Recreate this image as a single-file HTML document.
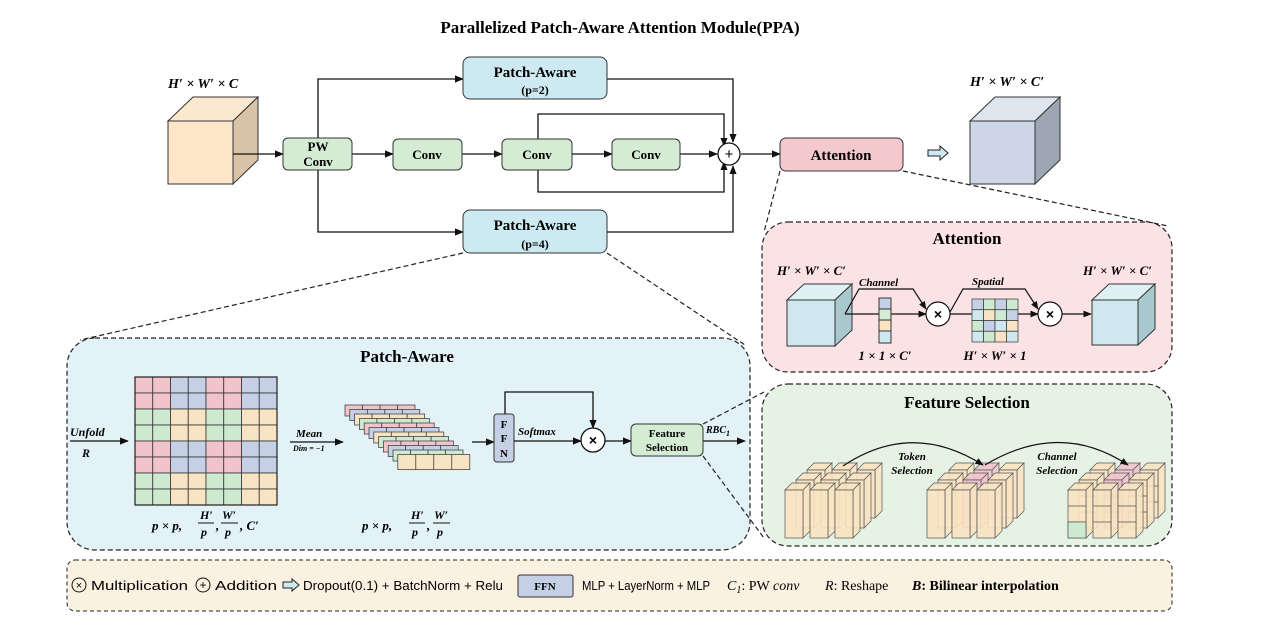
<!DOCTYPE html>
<html><head><meta charset="utf-8"><style>
html,body{margin:0;padding:0;background:#fff}
svg{display:block}
.t{font-family:"Liberation Serif",serif;font-weight:bold}
.i{font-family:"Liberation Serif",serif;font-style:italic;font-weight:bold}
.s{font-family:"Liberation Sans",sans-serif}
</style></head><body>
<svg id="sv" width="1278" height="622" viewBox="0 0 1278 622" xmlns="http://www.w3.org/2000/svg">
<defs>
<marker id="a" viewBox="0 0 10 10" refX="9" refY="5" markerWidth="7" markerHeight="7" orient="auto"><path d="M0,1 L10,5 L0,9 z" fill="#111"/></marker>
</defs>
<text x="620" y="33" text-anchor="middle" class="t" font-size="17">Parallelized Patch-Aware Attention Module(PPA)</text>

<!-- panels -->
<rect x="67" y="338" width="683" height="212" rx="28" fill="#e2f2f6" stroke="#222" stroke-dasharray="5,3" stroke-width="1.2"/>
<rect x="762" y="222" width="410" height="150" rx="26" fill="#fbe3e5" stroke="#222" stroke-dasharray="5,3" stroke-width="1.2"/>
<rect x="762" y="384" width="410" height="162" rx="26" fill="#e6f2e4" stroke="#222" stroke-dasharray="5,3" stroke-width="1.2"/>
<rect x="67" y="560" width="1105" height="51" rx="8" fill="#fbf1e0" stroke="#222" stroke-dasharray="4,3" stroke-width="1"/>

<!-- zoom dashed lines -->
<g stroke="#222" stroke-dasharray="5,3" stroke-width="1.2" fill="none">
<line x1="463" y1="253" x2="80" y2="340"/><line x1="607" y1="253" x2="745" y2="345"/>
<line x1="780" y1="171" x2="764" y2="232"/><line x1="903" y1="171" x2="1168" y2="226"/>
<line x1="703" y1="424" x2="764" y2="392"/><line x1="703" y1="456" x2="764" y2="538"/>
</g>

<!-- input cube -->
<polygon points="168,121 193,97 258,97 233,121" fill="#fbe9cf" stroke="#333"/>
<polygon points="233,121 258,97 258,160 233,184" fill="#d9c3a6" stroke="#333"/>
<rect x="168" y="121" width="65" height="63" fill="#fde7c8" stroke="#333"/>
<text x="168" y="88" class="i" font-size="14">H′ × W′ × C</text>

<!-- output cube -->
<polygon points="970,121 995,97 1060,97 1035,121" fill="#dfe5ef" stroke="#333"/>
<polygon points="1035,121 1060,97 1060,160 1035,184" fill="#9da6b4" stroke="#333"/>
<rect x="970" y="121" width="65" height="63" fill="#cdd6e6" stroke="#333"/>
<text x="970" y="86" class="i" font-size="14">H′ × W′ × C′</text>

<!-- main flow lines -->
<g stroke="#111" stroke-width="1.3" fill="none" marker-end="url(#a)">
<line x1="233" y1="154" x2="283" y2="154"/>
<polyline points="318,138 318,79 463,79"/>
<polyline points="318,170 318,232 463,232"/>
<line x1="352" y1="154" x2="393" y2="154"/>
<line x1="462" y1="154" x2="502" y2="154"/>
<line x1="572" y1="154" x2="612" y2="154"/>
<line x1="680" y1="154" x2="717" y2="154"/>
<polyline points="607,79 733,79 733,142"/>
<polyline points="607,232 733,232 733,166"/>
<polyline points="538,139 538,114 724,114 724,146"/>
<polyline points="538,170 538,192 724,192 724,162"/>
<line x1="741" y1="154" x2="780" y2="154"/>
</g>
<circle cx="729" cy="154" r="11" fill="#fff" stroke="#111" stroke-width="1.3"/>
<text x="729" y="159" text-anchor="middle" class="s" font-size="15">+</text>

<g class="t" font-size="13" text-anchor="middle">
<rect x="283" y="138" width="69" height="32" rx="5" fill="#d5ecd4" stroke="#333"/>
<text x="318" y="151">PW</text><text x="318" y="166">Conv</text>
<rect x="393" y="139" width="69" height="31" rx="5" fill="#d5ecd4" stroke="#333"/><text x="427" y="159">Conv</text>
<rect x="502" y="139" width="70" height="31" rx="5" fill="#d5ecd4" stroke="#333"/><text x="537" y="159">Conv</text>
<rect x="612" y="139" width="68" height="31" rx="5" fill="#d5ecd4" stroke="#333"/><text x="646" y="159">Conv</text>
<rect x="463" y="57" width="144" height="42" rx="7" fill="#cdeaf2" stroke="#333"/>
<text x="535" y="77" font-size="15">Patch-Aware</text><text x="535" y="94" font-size="12">(p=2)</text>
<rect x="463" y="210" width="144" height="43" rx="7" fill="#cdeaf2" stroke="#333"/>
<text x="535" y="230" font-size="15">Patch-Aware</text><text x="535" y="248" font-size="12">(p=4)</text>
<rect x="780" y="138" width="123" height="33" rx="6" fill="#f4c9cd" stroke="#333"/>
<text x="841" y="160" font-size="15">Attention</text>
</g>
<!-- hollow arrow -->
<path d="M928,150 L940,150 L940,146 L948,153 L940,160 L940,156 L928,156 Z" fill="#cdeaf2" stroke="#222"/>

<!-- Patch-Aware panel -->
<text x="407" y="362" text-anchor="middle" class="t" font-size="17">Patch-Aware</text>
<line x1="70" y1="441" x2="128" y2="441" stroke="#111" stroke-width="1.3" marker-end="url(#a)"/>
<text x="70" y="436" class="i" font-size="12">Unfold</text>
<text x="82" y="457" class="i" font-size="12">R</text>
<g id="grid"></g>
<text x="152" y="530" class="i" font-size="13">p × p, </text>
<text x="200" y="519" class="i" font-size="12">H′</text><line x1="198" y1="523" x2="214" y2="523" stroke="#111"/><text x="201" y="536" class="i" font-size="12">p</text>
<text x="216" y="530" class="i" font-size="13">,</text>
<text x="222" y="519" class="i" font-size="12">W′</text><line x1="221" y1="523" x2="238" y2="523" stroke="#111"/><text x="225" y="536" class="i" font-size="12">p</text>
<text x="240" y="530" class="i" font-size="13">, C′</text>

<line x1="290" y1="442" x2="343" y2="442" stroke="#111" stroke-width="1.3" marker-end="url(#a)"/>
<text x="296" y="437" class="i" font-size="11">Mean</text>
<text x="293" y="451" class="i" font-size="8">Dim = −1</text>
<g id="stack"></g>
<text x="362" y="530" class="i" font-size="13">p × p, </text>
<text x="411" y="519" class="i" font-size="12">H′</text><line x1="409" y1="523" x2="425" y2="523" stroke="#111"/><text x="412" y="536" class="i" font-size="12">p</text>
<text x="427" y="530" class="i" font-size="13">,</text>
<text x="434" y="519" class="i" font-size="12">W′</text><line x1="433" y1="523" x2="450" y2="523" stroke="#111"/><text x="437" y="536" class="i" font-size="12">p</text>

<line x1="472" y1="442" x2="494" y2="442" stroke="#111" stroke-width="1.3" marker-end="url(#a)"/>
<rect x="494" y="414" width="20" height="48" rx="3" fill="#c5d0e6" stroke="#333"/>
<g class="t" font-size="11" text-anchor="middle"><text x="504" y="428">F</text><text x="504" y="442">F</text><text x="504" y="457">N</text></g>
<g stroke="#111" stroke-width="1.3" fill="none" marker-end="url(#a)">
<line x1="514" y1="441" x2="581" y2="441"/>
<polyline points="505,414 505,392 593,392 593,428"/>
<line x1="605" y1="441" x2="631" y2="441"/>
<line x1="703" y1="441" x2="745" y2="441"/>
</g>
<text x="518" y="435" class="i" font-size="11">Softmax</text>
<circle cx="593" cy="440" r="12" fill="#fff" stroke="#111" stroke-width="1.3"/>
<text x="593" y="445" text-anchor="middle" class="s" font-size="14" font-weight="bold">×</text>
<rect x="631" y="424" width="72" height="32" rx="5" fill="#d5ecd4" stroke="#333"/>
<g class="t" font-size="11" text-anchor="middle"><text x="667" y="437">Feature</text><text x="667" y="451">Selection</text></g>
<text x="706" y="433" class="i" font-size="10">RBC<tspan font-size="8" dy="3">1</tspan></text>

<!-- Attention panel -->
<text x="967" y="244" text-anchor="middle" class="t" font-size="17">Attention</text>
<polygon points="787,300 804,284 852,284 835,300" fill="#dff0f4" stroke="#333"/>
<polygon points="835,300 852,284 852,330 835,346" fill="#a9c8ce" stroke="#333"/>
<rect x="787" y="300" width="48" height="46" fill="#cfe7ee" stroke="#333"/>
<polygon points="1092,300 1109,284 1155,284 1138,300" fill="#dff0f4" stroke="#333"/>
<polygon points="1138,300 1155,284 1155,329 1138,345" fill="#a9c8ce" stroke="#333"/>
<rect x="1092" y="300" width="46" height="45" fill="#cfe7ee" stroke="#333"/>
<text x="777" y="275" class="i" font-size="13">H′ × W′ × C′</text>
<text x="1083" y="275" class="i" font-size="13">H′ × W′ × C′</text>
<g stroke="#111" stroke-width="1.2" fill="none">
<line x1="845" y1="314" x2="926" y2="314" marker-end="url(#a)"/>
<polyline points="845,314 859,289 913,289 926,309" marker-end="url(#a)"/>
<line x1="950" y1="314" x2="972" y2="314"/>
<line x1="1018" y1="314" x2="1038" y2="314" marker-end="url(#a)"/>
<polyline points="950,312 963,289 1025,289 1038,309" marker-end="url(#a)"/>
<line x1="1062" y1="314" x2="1091" y2="314" marker-end="url(#a)"/>
</g>
<rect x="879" y="298" width="12" height="11" fill="#c5d0e6" stroke="#333"/>
<rect x="879" y="309" width="12" height="11" fill="#d5ecd4" stroke="#333"/>
<rect x="879" y="320" width="12" height="11" fill="#f8e3c2" stroke="#333"/>
<rect x="879" y="331" width="12" height="12" fill="#cfe7ee" stroke="#333"/>
<text x="859" y="286" class="i" font-size="11">Channel</text>
<text x="972" y="285" class="i" font-size="11">Spatial</text>
<circle cx="938" cy="314" r="12" fill="#fff" stroke="#111" stroke-width="1.2"/>
<text x="938" y="319" text-anchor="middle" class="s" font-size="14" font-weight="bold">×</text>
<circle cx="1050" cy="314" r="12" fill="#fff" stroke="#111" stroke-width="1.2"/>
<text x="1050" y="319" text-anchor="middle" class="s" font-size="14" font-weight="bold">×</text>
<g id="sp"></g>
<text x="885" y="360" text-anchor="middle" class="i" font-size="13">1 × 1 × C′</text>
<text x="995" y="360" text-anchor="middle" class="i" font-size="13">H′ × W′ × 1</text>

<!-- Feature selection -->
<text x="967" y="408" text-anchor="middle" class="t" font-size="17">Feature Selection</text>
<g id="fs"></g>
<g stroke="#111" stroke-width="1.2" fill="none">
<path d="M843,466 Q912,420 983,465" marker-end="url(#a)"/>
<path d="M985,465 Q1060,420 1128,465" marker-end="url(#a)"/>
</g>
<g class="i" font-size="11" text-anchor="middle">
<text x="912" y="460">Token</text><text x="912" y="474">Selection</text>
<text x="1057" y="460">Channel</text><text x="1057" y="474">Selection</text>
</g>

<!-- legend -->
<g class="s" font-size="13">
<circle cx="79" cy="585" r="7" fill="none" stroke="#111"/><text x="79" y="589" text-anchor="middle" font-size="11">×</text>
<text x="91" y="590" textLength="97" lengthAdjust="spacingAndGlyphs">Multiplication</text>
<circle cx="203" cy="585" r="7" fill="none" stroke="#111"/><text x="203" y="589" text-anchor="middle" font-size="12">+</text>
<text x="215" y="590" textLength="62" lengthAdjust="spacingAndGlyphs">Addition</text>
<path d="M283,582 L292,582 L292,579 L299,585 L292,591 L292,588 L283,588 Z" fill="#cdeaf2" stroke="#222"/>
<text x="303" y="590" textLength="200" lengthAdjust="spacingAndGlyphs">Dropout(0.1) + BatchNorm + Relu</text>
<rect x="518" y="575" width="55" height="22" rx="2" fill="#c5d0e6" stroke="#333"/>
<text x="545" y="590" text-anchor="middle" class="t" font-size="11">FFN</text>
<text x="582" y="590" textLength="128" lengthAdjust="spacingAndGlyphs">MLP + LayerNorm + MLP</text>
<text x="727" y="590" font-family="Liberation Serif" font-style="italic" font-size="14">C<tspan font-size="10" dy="3">1</tspan><tspan dy="-3" font-style="normal">: PW </tspan>conv</text>
<text x="825" y="590" font-family="Liberation Serif" font-size="14"><tspan font-style="italic">R</tspan>: Reshape</text>
<text x="912" y="590" font-family="Liberation Serif" font-size="14" font-weight="bold"><tspan font-style="italic">B</tspan>: Bilinear interpolation</text>
</g>
</svg>
<script>
var NS="http://www.w3.org/2000/svg";
function el(p,t,a){var e=document.createElementNS(NS,t);for(var k in a)e.setAttribute(k,a[k]);p.appendChild(e);return e;}
var P="#f1c4cc",B="#c5d0e6",G="#cde9cf",Y="#f8e3c2",L="#cfe7ee";
var g=document.getElementById("grid");
var rA=[P,P,B,B,P,P,B,B],rB=[G,G,Y,Y,G,G,Y,Y];
for(var r=0;r<8;r++){var row=(Math.floor(r/2)%2==0)?rA:rB;for(var c=0;c<8;c++)el(g,"rect",{x:135+c*17.75,y:377+r*16,width:17.75,height:16,fill:row[c],stroke:"#333","stroke-width":0.8});}
el(g,"rect",{x:135,y:377,width:142,height:128,fill:"none",stroke:"#222","stroke-width":1.2});
var s=document.getElementById("stack");var cols=[P,B,Y,G,P,B,Y,G,P,B,G,Y];
for(var i=0;i<12;i++){var x=345+i*4.8,y=405+i*4.5;var w=(i==11)?72:70;
for(var c=0;c<4;c++)el(s,"rect",{x:x+c*w/4,y:y,width:w/4,height:(i==11)?15:11,fill:cols[i],stroke:"#333","stroke-width":0.7});}
var sp=document.getElementById("sp");
var sg=[[B,G,B,G],[L,Y,G,B],[G,B,L,Y],[L,G,Y,L]];
for(var r=0;r<4;r++)for(var c=0;c<4;c++)el(sp,"rect",{x:972+c*11.5,y:299+r*10.75,width:11.5,height:10.75,fill:sg[r][c],stroke:"#333","stroke-width":0.7});
var fs=document.getElementById("fs");
function pillar(x,y,w,h,d,col,seg){
 el(fs,"polygon",{points:[x,y,x+d,y-d,x+w+d,y-d,x+w,y].join(","),fill:col,stroke:"#555","stroke-width":0.7,"fill-opacity":0.9});
 el(fs,"polygon",{points:[x+w,y,x+w+d,y-d,x+w+d,y+h-d,x+w,y+h].join(","),fill:col,stroke:"#555","stroke-width":0.7,"fill-opacity":0.9});
 el(fs,"rect",{x:x,y:y,width:w,height:h,fill:col,stroke:"#555","stroke-width":0.7,"fill-opacity":0.9});
 if(seg){for(var k=1;k<seg;k++)el(fs,"line",{x1:x,y1:y+h*k/seg,x2:x+w,y2:y+h*k/seg,stroke:"#555","stroke-width":0.7});}
}
function group(x0,y0,h,pinkCol,seg){
 for(var r=2;r>=0;r--)for(var c=0;c<3;c++){
  var col=Y; if(pinkCol!==null&&c==pinkCol&&r>0)col=P;
  pillar(x0+c*25+r*11,y0-r*10,18,h,7,col,seg);}
}
group(785,490,48,null,0);
group(927,490,48,1,0);
group(1068,490,48,1,3);
el(fs,"rect",{x:1068,y:522,width:18,height:16,fill:G,stroke:"#555","stroke-width":0.7});
</script>
</body></html>
